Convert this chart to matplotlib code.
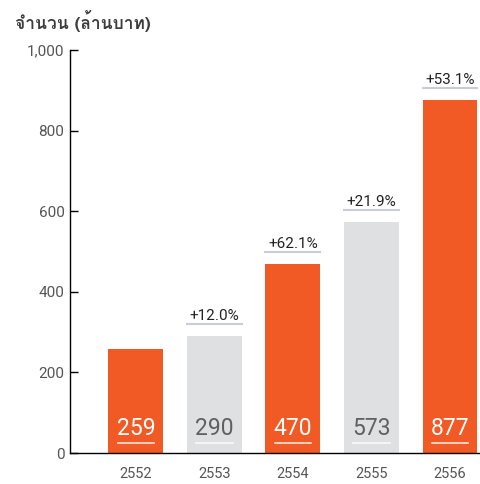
import matplotlib
matplotlib.use("Agg")
import matplotlib.pyplot as plt
from matplotlib import font_manager
from matplotlib.ft2font import FT2Font

years = ["2552", "2553", "2554", "2555", "2556"]
values = [259, 290, 470, 573, 877]
growth = ["", "+12.0%", "+62.1%", "+21.9%", "+53.1%"]
highlight = [True, False, True, False, True]
title = "จำนวน (ล้านบาท)"

ORANGE = "#f15a24"
GREY = "#dfe0e2"

# find something that can draw Thai
thai_font = None
for f in font_manager.fontManager.ttflist:
    try:
        cmap = FT2Font(f.fname).get_charmap()
    except Exception:
        continue
    if ord("จ") in cmap and ord("้") in cmap:
        thai_font = f.name
        if f.weight in ("bold", 700):
            break
fams = [thai_font, "DejaVu Sans"] if thai_font else ["DejaVu Sans"]

plt.rcParams['font.family'] = ['Roboto', 'DejaVu Sans']

fig = plt.figure(figsize=(4.81, 4.84), dpi=100)
ax = fig.add_axes([0.1455, 0.064, 0.8545, 0.8326])

x = list(range(len(years)))
colors = [ORANGE if h else GREY for h in highlight]
ax.bar(x, values, width=0.70, color=colors, zorder=2)

for i, v in enumerate(values):
    c = "white" if highlight[i] else "#5f6062"
    ax.text(i, 33, str(v), ha="center", va="bottom", fontsize=16.5,
            color=c, zorder=3)
    ax.plot([i - 0.23, i + 0.23], [25, 25], color="white", lw=1.2,
            alpha=0.85, zorder=3)
    if growth[i]:
        ax.plot([i - 0.35, i + 0.35], [v + 30, v + 30], color="#c9cdd3",
                lw=1.5, zorder=3)
        ax.text(i, v + 32, growth[i], ha="center", va="bottom", fontsize=11,
                color="#222222", zorder=3)

ax.set_xlim(-0.84, 4.395)
ax.set_ylim(0, 1000)
ax.set_xticks(x)
ax.set_xticklabels(years, fontsize=10.5, color="#555555")
ax.set_yticks([0, 200, 400, 600, 800, 1000])
ax.set_yticklabels(["0", "200", "400", "600", "800", "1,000"], fontsize=11,
                   color="#555555")
ax.tick_params(axis="x", length=0, pad=10)
ax.tick_params(axis="y", direction="in", length=6, width=1, color="black", pad=4)

ax.spines["top"].set_visible(False)
ax.spines["right"].set_visible(False)
ax.spines["left"].set_color("black")
ax.spines["bottom"].set_color("black")
ax.spines["left"].set_linewidth(1)
ax.spines["bottom"].set_linewidth(1)

fig.text(0.031, 0.957, title, fontsize=12.5, fontweight="bold", color="#3d3d3d",
         ha="left", va="center", family=fams)

fig.savefig("out.png", dpi=100)
